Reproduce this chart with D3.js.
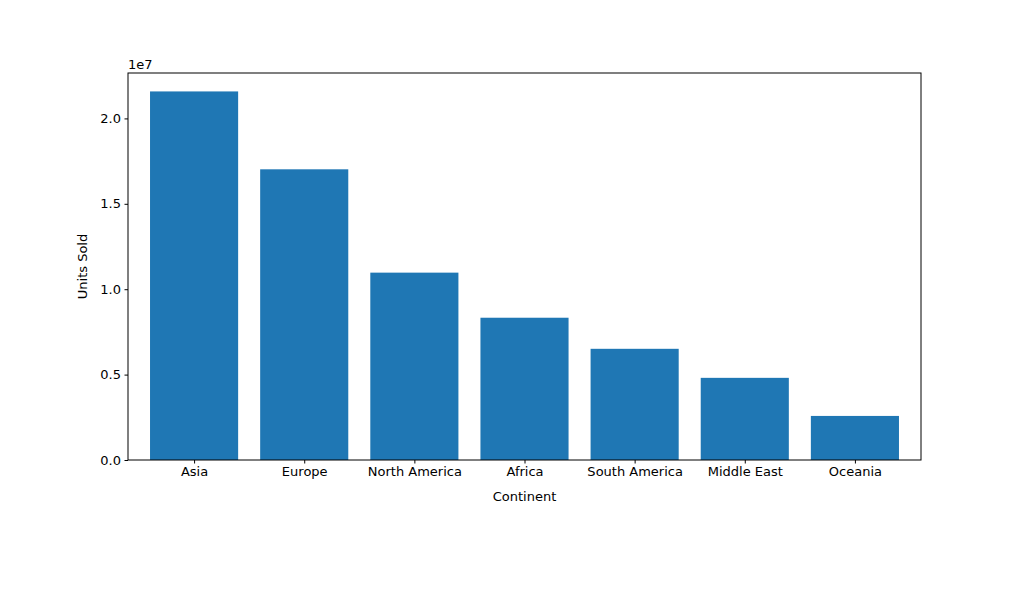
<!DOCTYPE html>
<html><head><meta charset="utf-8">
<script src="https://cdn.jsdelivr.net/npm/d3@7"></script>
<style>body{margin:0;background:#fff}text{font-family:"DejaVu Sans",sans-serif}</style>
</head><body><svg id="c" width="1024" height="614"></svg>
<script>
const categories=["Asia","Europe","North America","Africa","South America","Middle East","Oceania"];
const values=[21580000,17020000,10970000,8330000,6510000,4810000,2580000];
const yTicks=[0,0.5e7,1.0e7,1.5e7,2.0e7];
const svg=d3.select("#c");
const L=128,R=921,T=73,B=460;
const x=d3.scaleLinear().domain([-0.6,categories.length-0.4]).range([L,R]);
const y=d3.scaleLinear().domain([0,d3.max(values)*1.05]).range([B,T]);
svg.selectAll("rect.bar").data(values).enter().append("rect")
 .attr("x",(d,i)=>x(i-0.4)).attr("width",x(0.8)-x(0)).attr("y",d=>y(d)).attr("height",d=>B-y(d)).attr("fill","#1f77b4");
const xa=svg.append("g").attr("transform",`translate(0,${B})`).call(d3.axisBottom(x).tickValues(d3.range(categories.length)).tickFormat(i=>categories[i]).tickSize(3.5).tickPadding(3.5));
const ya=svg.append("g").attr("transform",`translate(${L},0)`).call(d3.axisLeft(y).tickValues(yTicks).tickFormat(d=>(d/1e7).toFixed(1)).tickSize(3.5).tickPadding(3.5));
[xa,ya].forEach(g=>{g.select(".domain").remove();g.selectAll("text").attr("font-size",13).attr("fill","#000").style("font-family","DejaVu Sans");g.selectAll("line").attr("stroke","#000");});
svg.append("rect").attr("x",L).attr("y",T).attr("width",R-L).attr("height",B-T).attr("fill","none").attr("stroke","#000");
svg.append("text").attr("x",L).attr("y",T-4).attr("font-size",13).text("1e7");
svg.append("text").attr("x",(L+R)/2).attr("y",501).attr("text-anchor","middle").attr("font-size",13).text("Continent");
svg.append("text").attr("transform",`translate(87,${(T+B)/2}) rotate(-90)`).attr("text-anchor","middle").attr("font-size",13).text("Units Sold");
</script></body></html>
